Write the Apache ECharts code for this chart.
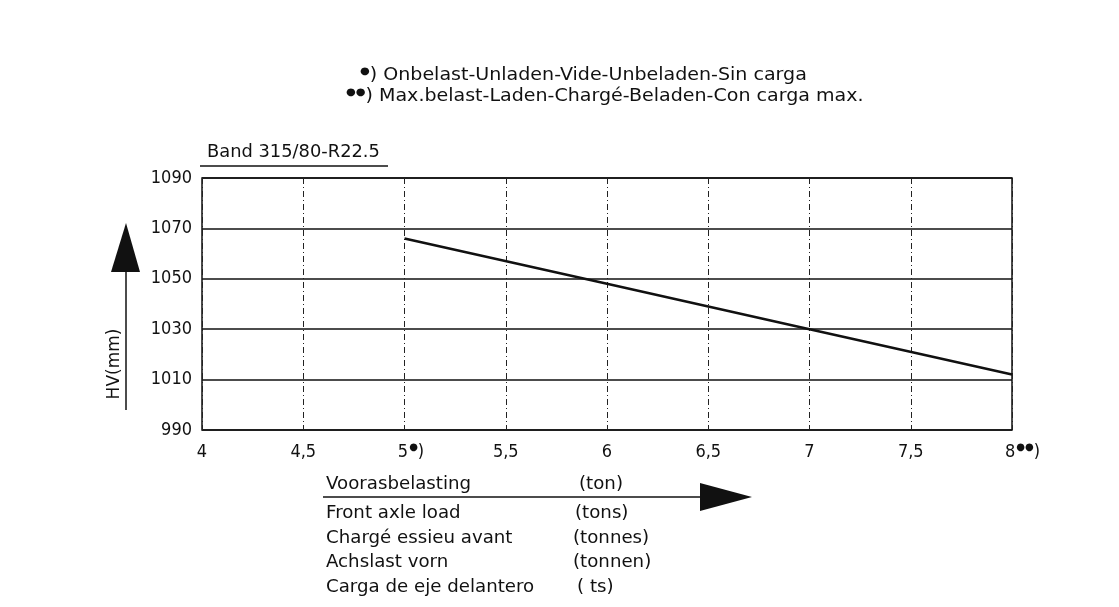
<!DOCTYPE html>
<html>
<head>
<meta charset="utf-8">
<script src="https://cdn.jsdelivr.net/npm/echarts@6/dist/echarts.min.js"></script>
<style>
  html, body { margin: 0; padding: 0; background: #fff; }
  #chart { width: 1119px; height: 607px; }
</style>
</head>
<body>
<div id="chart"></div>
<script>
const FONT = "'Liberation Sans Narrow', 'DejaVu Sans Condensed', sans-serif"
const TEXT_FONT = "'DejaVu Sans', sans-serif"

// front axle load (ton) vs HV (mm)
const axleLoad = [5, 6, 7, 8]
const hvHeight = [1066, 1048, 1030, 1012]

const xTicks = { 4: "4", 4.5: "4,5", 5: "5", 5.5: "5,5", 6: "6", 6.5: "6,5", 7: "7", 7.5: "7,5", 8: "8" }
const xBullets = { 5: "●", 8: "●●" }

const legendLines = [
  "Onbelast-Unladen-Vide-Unbeladen-Sin carga",
  "Max.belast-Laden-Chargé-Beladen-Con carga max."
]
const axisNames = [
  ["Voorasbelasting", "(ton)"],
  ["Front axle load", "(tons)"],
  ["Chargé essieu avant", "(tonnes)"],
  ["Achslast vorn", "(tonnen)"],
  ["Carga de eje delantero", "( ts)"]
]

const chart = echarts.init(document.getElementById("chart"))

const txt = (x, y, text, sx) => ({
  type: "text",
  x: x,
  y: y,
  scaleX: sx || 1.07,
  style: { text: text, font: "17px " + TEXT_FONT, fill: "#111", verticalAlign: "middle" },
})

const bulletRich = { b: { fontSize: 10, fontFamily: TEXT_FONT, verticalAlign: "top", fill: "#111", padding: [0, 0, 9, 0] } }

const graphics = [
  // header notes
  { type: "text", x: 360, y: 76, scaleX: 1.12, style: {
      text: "{b|●}) " + legendLines[0], font: "17px " + TEXT_FONT, fill: "#111", verticalAlign: "middle", rich: bulletRich } },
  { type: "text", x: 346, y: 97, scaleX: 1.12, style: {
      text: "{b|●●}) " + legendLines[1], font: "17px " + TEXT_FONT, fill: "#111", verticalAlign: "middle", rich: bulletRich } },
  // title
  txt(207, 153, "Band 315/80-R22.5", 1.05),
  { type: "line", shape: { x1: 200, y1: 166, x2: 388, y2: 166 }, style: { stroke: "#111", lineWidth: 1.5 } },
  // y arrow
  { type: "polygon", shape: { points: [[111, 272], [126, 223], [140, 272]] }, style: { fill: "#111" } },
  { type: "line", shape: { x1: 126, y1: 270, x2: 126, y2: 410 }, style: { stroke: "#111", lineWidth: 1.5 } },
  { type: "text", x: 115, y: 364, rotation: Math.PI / 2,
    style: { text: "HV(mm)", font: "17px " + TEXT_FONT, fill: "#111", align: "center", verticalAlign: "middle" } },
  // x arrow
  { type: "line", shape: { x1: 323, y1: 497, x2: 705, y2: 497 }, style: { stroke: "#111", lineWidth: 1.5 } },
  { type: "polygon", shape: { points: [[700, 483], [752, 497], [700, 511]] }, style: { fill: "#111" } },
]
const rowY = [485, 514, 539, 563, 588]
const unitX = [579, 575, 573, 573, 577]
axisNames.forEach((row, i) => {
  graphics.push(txt(326, rowY[i], row[0]))
  graphics.push(txt(unitX[i], rowY[i], row[1]))
})

chart.setOption({
  backgroundColor: "#fff",
  animation: false,
  grid: {
    left: 202,
    right: 107,
    top: 178,
    bottom: 177,
    show: true,
    borderColor: "#111",
    borderWidth: 1.5,
  },
  xAxis: {
    type: "value",
    min: 4,
    max: 8,
    interval: 0.5,
    axisLine: { show: false },
    axisTick: { show: false },
    axisLabel: {
      color: "#111",
      fontFamily: FONT,
      fontSize: 18,
      lineHeight: 20,
      margin: 12,
      formatter: (v) => {
        const b = xBullets[v]
        if (!b) return xTicks[v]
        return "{p" + b.length + "|}{n|" + xTicks[v] + "}{s|" + b + "}{n|)}"
      },
      rich: {
        p1: { width: 13, lineHeight: 20 },
        p2: { width: 21, lineHeight: 20 },
        n: { fontSize: 18, fontFamily: FONT, lineHeight: 20, color: "#111" },
        s: { fontSize: 10, fontFamily: TEXT_FONT, lineHeight: 10, verticalAlign: "top", color: "#111", padding: [0, 0, 0, 1] },
      },
    },
    splitLine: { show: true, lineStyle: { color: "#222", type: [6, 3, 1, 3], width: 1 } },
  },
  yAxis: {
    type: "value",
    min: 990,
    max: 1090,
    interval: 20,
    axisLine: { show: false },
    axisTick: { show: false },
    axisLabel: { color: "#111", fontFamily: FONT, fontSize: 18, margin: 10, formatter: (v) => String(v) },
    splitLine: { show: true, lineStyle: { color: "#111", width: 1.5 } },
  },
  series: [
    {
      type: "line",
      data: axleLoad.map((x, i) => [x, hvHeight[i]]),
      symbol: "none",
      lineStyle: { color: "#111", width: 2.5 },
    },
  ],
  graphic: graphics,
})
</script>
</body>
</html>
